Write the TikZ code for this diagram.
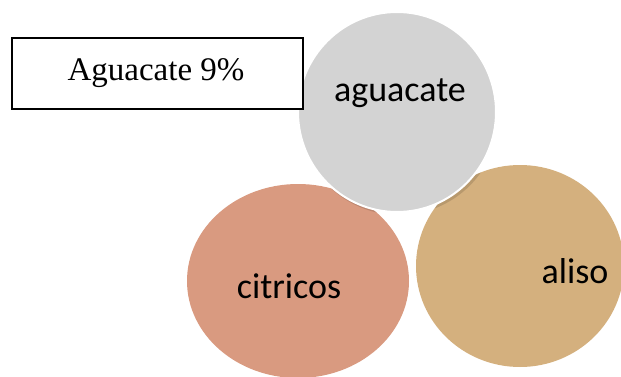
\documentclass[tikz,border=0pt]{standalone}
\usepackage{fontspec}
\setmainfont{Liberation Serif}
\newfontfamily\bubblefont{Carlito}
\definecolor{agray}{RGB}{211,211,211}
\definecolor{citri}{RGB}{217,154,128}
\definecolor{alisoc}{RGB}{212,176,126}
\begin{document}
\begin{tikzpicture}[x=1pt,y=-1pt,
  bubble/.style={ellipse, inner sep=0pt},
  bubbletext/.style={font=\bubblefont\fontsize{36}{40}\selectfont, inner sep=0pt, anchor=base},
  labelbox/.style={draw=black, line width=1.6pt, minimum width=291pt, minimum height=71pt, inner sep=0pt},
  shade/.style={fill=black, opacity=0.13}]
\useasboundingbox (0,0) rectangle (621,377);
\clip (0,0) rectangle (621,377);
% back ellipses
\fill[citri] (298,281) ellipse [x radius=111, y radius=97];
\fill[alisoc] (520,266) ellipse [x radius=104, y radius=101];
% shadows of top circle
\begin{scope}
  \clip (298,281) ellipse [x radius=111, y radius=97];
  \fill[shade] (399,115) ellipse [x radius=100, y radius=100];
\end{scope}
\begin{scope}
  \clip (520,266) ellipse [x radius=104, y radius=101];
  \fill[shade] (399,115) ellipse [x radius=100, y radius=100];
\end{scope}
% top circle
\fill[agray, draw=white, line width=2pt] (397,112) ellipse [x radius=99, y radius=100];
% texts
\node[bubbletext] (aguacate) at (400,102) {aguacate};
\node[bubbletext] (citricos) at (289,298) {citricos};
\node[bubbletext] (aliso) at (575,283) {aliso};
% label box
\node[labelbox, fill=white] (box) at (157.5,73.5) {};
\node[font=\fontsize{33}{36}\selectfont, inner sep=0pt, anchor=base] (boxtext) at (156,81) {Aguacate 9\%};
\end{tikzpicture}
\end{document}
